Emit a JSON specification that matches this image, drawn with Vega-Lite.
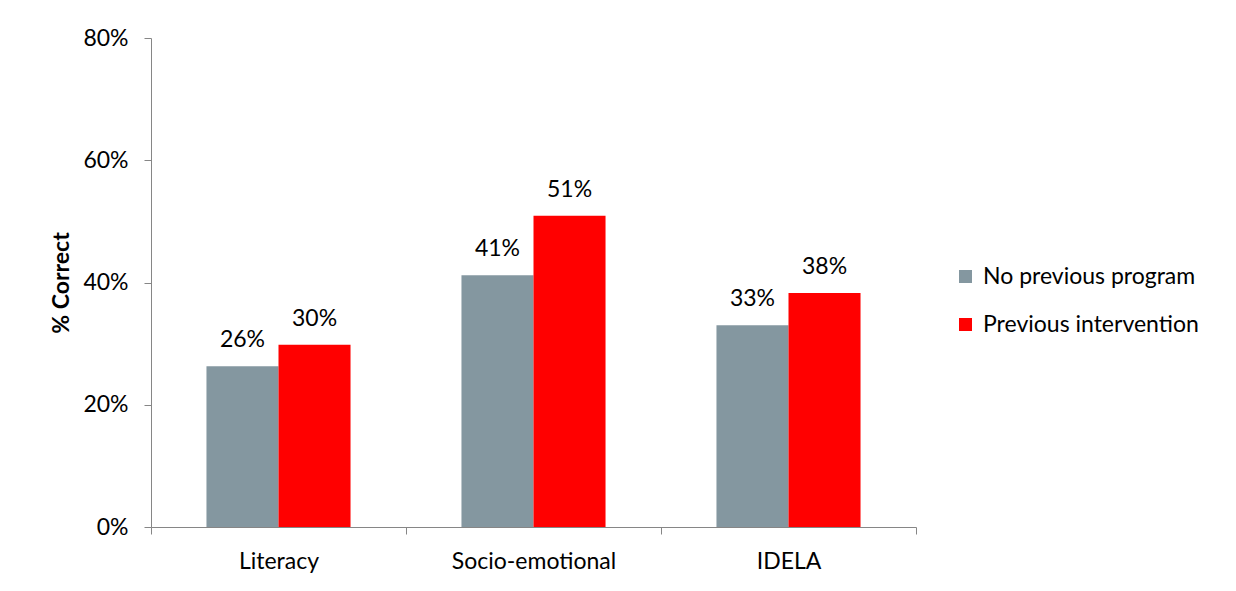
{
  "$schema": "https://vega.github.io/schema/vega-lite/v6.json",
  "width": 765,
  "height": 489,
  "autosize": {"type": "none"},
  "padding": {"left": 151, "top": 38, "right": 320, "bottom": 64},
  "background": "white",
  "data": {
    "values": [
      {"category": "Literacy", "group": "No previous program", "value": 0.263},
      {"category": "Literacy", "group": "Previous intervention", "value": 0.298},
      {"category": "Socio-emotional", "group": "No previous program", "value": 0.412},
      {"category": "Socio-emotional", "group": "Previous intervention", "value": 0.509},
      {"category": "IDELA", "group": "No previous program", "value": 0.330},
      {"category": "IDELA", "group": "Previous intervention", "value": 0.383}
    ]
  },
  "encoding": {
    "x": {
      "field": "category",
      "type": "nominal",
      "sort": ["Literacy", "Socio-emotional", "IDELA"],
      "scale": {"paddingInner": 0, "paddingOuter": 0},
      "axis": {
        "title": null,
        "labelAngle": 0,
        "tickBand": "extent",
        "tickSize": 7,
        "tickColor": "#868686",
        "domainColor": "#868686",
        "labelFont": "Lato",
        "labelFontSize": 23,
        "labelColor": "#000000",
        "labelPadding": 16
      }
    },
    "xOffset": {
      "field": "group",
      "type": "nominal",
      "scale": {"paddingInner": 0, "paddingOuter": 0.77}
    },
    "y": {
      "field": "value",
      "type": "quantitative",
      "scale": {"domain": [0, 0.8], "nice": false},
      "axis": {
        "title": "% Correct",
        "format": ".0%",
        "values": [0, 0.2, 0.4, 0.6, 0.8],
        "grid": false,
        "tickSize": 7,
        "tickColor": "#868686",
        "domainColor": "#868686",
        "labelFont": "Lato",
        "labelFontSize": 23,
        "labelColor": "#000000",
        "labelPadding": 16,
        "titleFont": "Lato",
        "titleFontSize": 23,
        "titleFontWeight": "bold",
        "titleColor": "#000000",
        "titlePadding": 9
      }
    }
  },
  "layer": [
    {
      "mark": {"type": "bar"},
      "encoding": {
        "color": {
          "field": "group",
          "type": "nominal",
          "scale": {
            "domain": ["No previous program", "Previous intervention"],
            "range": ["#8497A0", "#FF0000"]
          },
          "legend": {
            "title": null,
            "orient": "none",
            "legendX": 803,
            "legendY": 227,
            "symbolType": "square",
            "symbolSize": 170,
            "symbolStrokeWidth": 0,
            "labelFont": "Lato",
            "labelFontSize": 23,
            "labelColor": "#000000",
            "labelOffset": 6,
            "labelLimit": 400,
            "rowPadding": 24
          }
        }
      }
    },
    {
      "mark": {"type": "text", "baseline": "alphabetic", "dy": -19, "font": "Lato", "fontSize": 23, "color": "#000000"},
      "encoding": {
        "text": {"field": "value", "type": "quantitative", "format": ".0%"}
      }
    }
  ],
  "config": {
    "view": {"stroke": null}
  }
}
